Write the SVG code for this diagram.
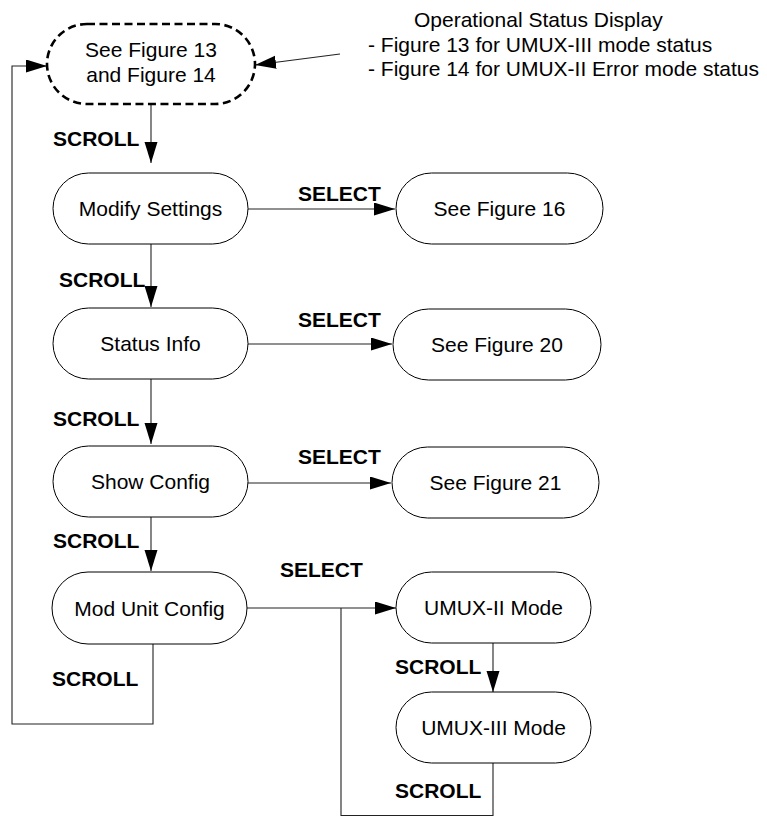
<svg xmlns="http://www.w3.org/2000/svg" width="767" height="817" viewBox="0 0 767 817">
  <style>
    .node { fill: #fff; stroke: #000; stroke-width: 1; }
    .start { fill: #fff; stroke: #000; stroke-width: 2.6; stroke-dasharray: 8 4.5; }
    .label { font-family: "Liberation Sans", Arial, sans-serif; font-size: 21px; fill: #000; text-anchor: middle; }
    .key { font-family: "Liberation Sans", Arial, sans-serif; font-size: 21px; font-weight: bold; fill: #000; }
    .note { font-family: "Liberation Sans", Arial, sans-serif; font-size: 21px; fill: #000; }
    .wire { fill: none; stroke: #222; stroke-width: 1.1; }
    .arrow { fill: none; stroke: #222; stroke-width: 1.1; marker-end: url(#head); }
  </style>
  <defs>
    <marker id="head" markerUnits="userSpaceOnUse" markerWidth="22" markerHeight="14" refX="21" refY="6.5" orient="auto">
      <path d="M0,0 L21,6.5 L0,13 Z" fill="#000"/>
    </marker>
  </defs>

  <rect width="767" height="817" fill="#fff"/>

  <!-- connectors -->
  <g id="connectors">
    <path class="arrow" d="M151,104 V163"/>
    <path class="arrow" d="M151,244 V307"/>
    <path class="arrow" d="M151,379 V444"/>
    <path class="arrow" d="M151,517 V571"/>
    <path class="arrow" d="M248,209 H395"/>
    <path class="arrow" d="M248,344 H392"/>
    <path class="arrow" d="M248,483 H391"/>
    <path class="arrow" d="M247,608 H396"/>
    <path class="arrow" d="M493,643 V692"/>
    <path class="wire" d="M493,763 V815.5 H341 V608"/>
    <path class="arrow" d="M153,644 V724 H12 V66 H47"/>
    <path class="arrow" d="M340,54 L255,65"/>
  </g>

  <!-- labels on the connectors -->
  <g id="edge-labels">
    <text class="key" x="53" y="146">SCROLL</text>
    <text class="key" x="59" y="287">SCROLL</text>
    <text class="key" x="53" y="426">SCROLL</text>
    <text class="key" x="53" y="548">SCROLL</text>
    <text class="key" x="52" y="686">SCROLL</text>
    <text class="key" x="395" y="674">SCROLL</text>
    <text class="key" x="395" y="798">SCROLL</text>
    <text class="key" x="298" y="201">SELECT</text>
    <text class="key" x="298" y="327">SELECT</text>
    <text class="key" x="298" y="464">SELECT</text>
    <text class="key" x="280" y="577">SELECT</text>
  </g>

  <!-- status display note -->
  <g id="note-status">
    <text class="note" x="414" y="27">Operational Status Display</text>
    <text class="note" x="368" y="52">- Figure 13 for UMUX-III mode status</text>
    <text class="note" x="368" y="76">- Figure 14 for UMUX-II Error mode status</text>
  </g>

  <!-- nodes -->
  <g id="node-status">
    <rect class="start" x="47" y="24" width="208" height="80" rx="40"/>
    <text class="label" x="151" y="57">See Figure 13</text>
    <text class="label" x="151" y="82">and Figure 14</text>
  </g>
  <g id="node-modify">
    <rect class="node" x="53" y="173" width="195" height="71" rx="35.5"/>
    <text class="label" x="150.5" y="216">Modify Settings</text>
  </g>
  <g id="node-fig16">
    <rect class="node" x="396" y="173" width="207" height="71" rx="35.5"/>
    <text class="label" x="499.5" y="216">See Figure 16</text>
  </g>
  <g id="node-statusinfo">
    <rect class="node" x="53" y="308" width="195" height="71" rx="35.5"/>
    <text class="label" x="150.5" y="351">Status Info</text>
  </g>
  <g id="node-fig20">
    <rect class="node" x="393" y="309" width="208" height="71" rx="35.5"/>
    <text class="label" x="497" y="352">See Figure 20</text>
  </g>
  <g id="node-showconfig">
    <rect class="node" x="53" y="446" width="195" height="71" rx="35.5"/>
    <text class="label" x="150.5" y="489">Show Config</text>
  </g>
  <g id="node-fig21">
    <rect class="node" x="392" y="447" width="207" height="71" rx="35.5"/>
    <text class="label" x="495.5" y="490">See Figure 21</text>
  </g>
  <g id="node-modunit">
    <rect class="node" x="52" y="572" width="195" height="72" rx="36"/>
    <text class="label" x="149.5" y="615.5">Mod Unit Config</text>
  </g>
  <g id="node-umux2">
    <rect class="node" x="396" y="572" width="195" height="71" rx="35.5"/>
    <text class="label" x="493.5" y="615">UMUX-II Mode</text>
  </g>
  <g id="node-umux3">
    <rect class="node" x="396" y="692" width="195" height="71" rx="35.5"/>
    <text class="label" x="493.5" y="735">UMUX-III Mode</text>
  </g>
</svg>
